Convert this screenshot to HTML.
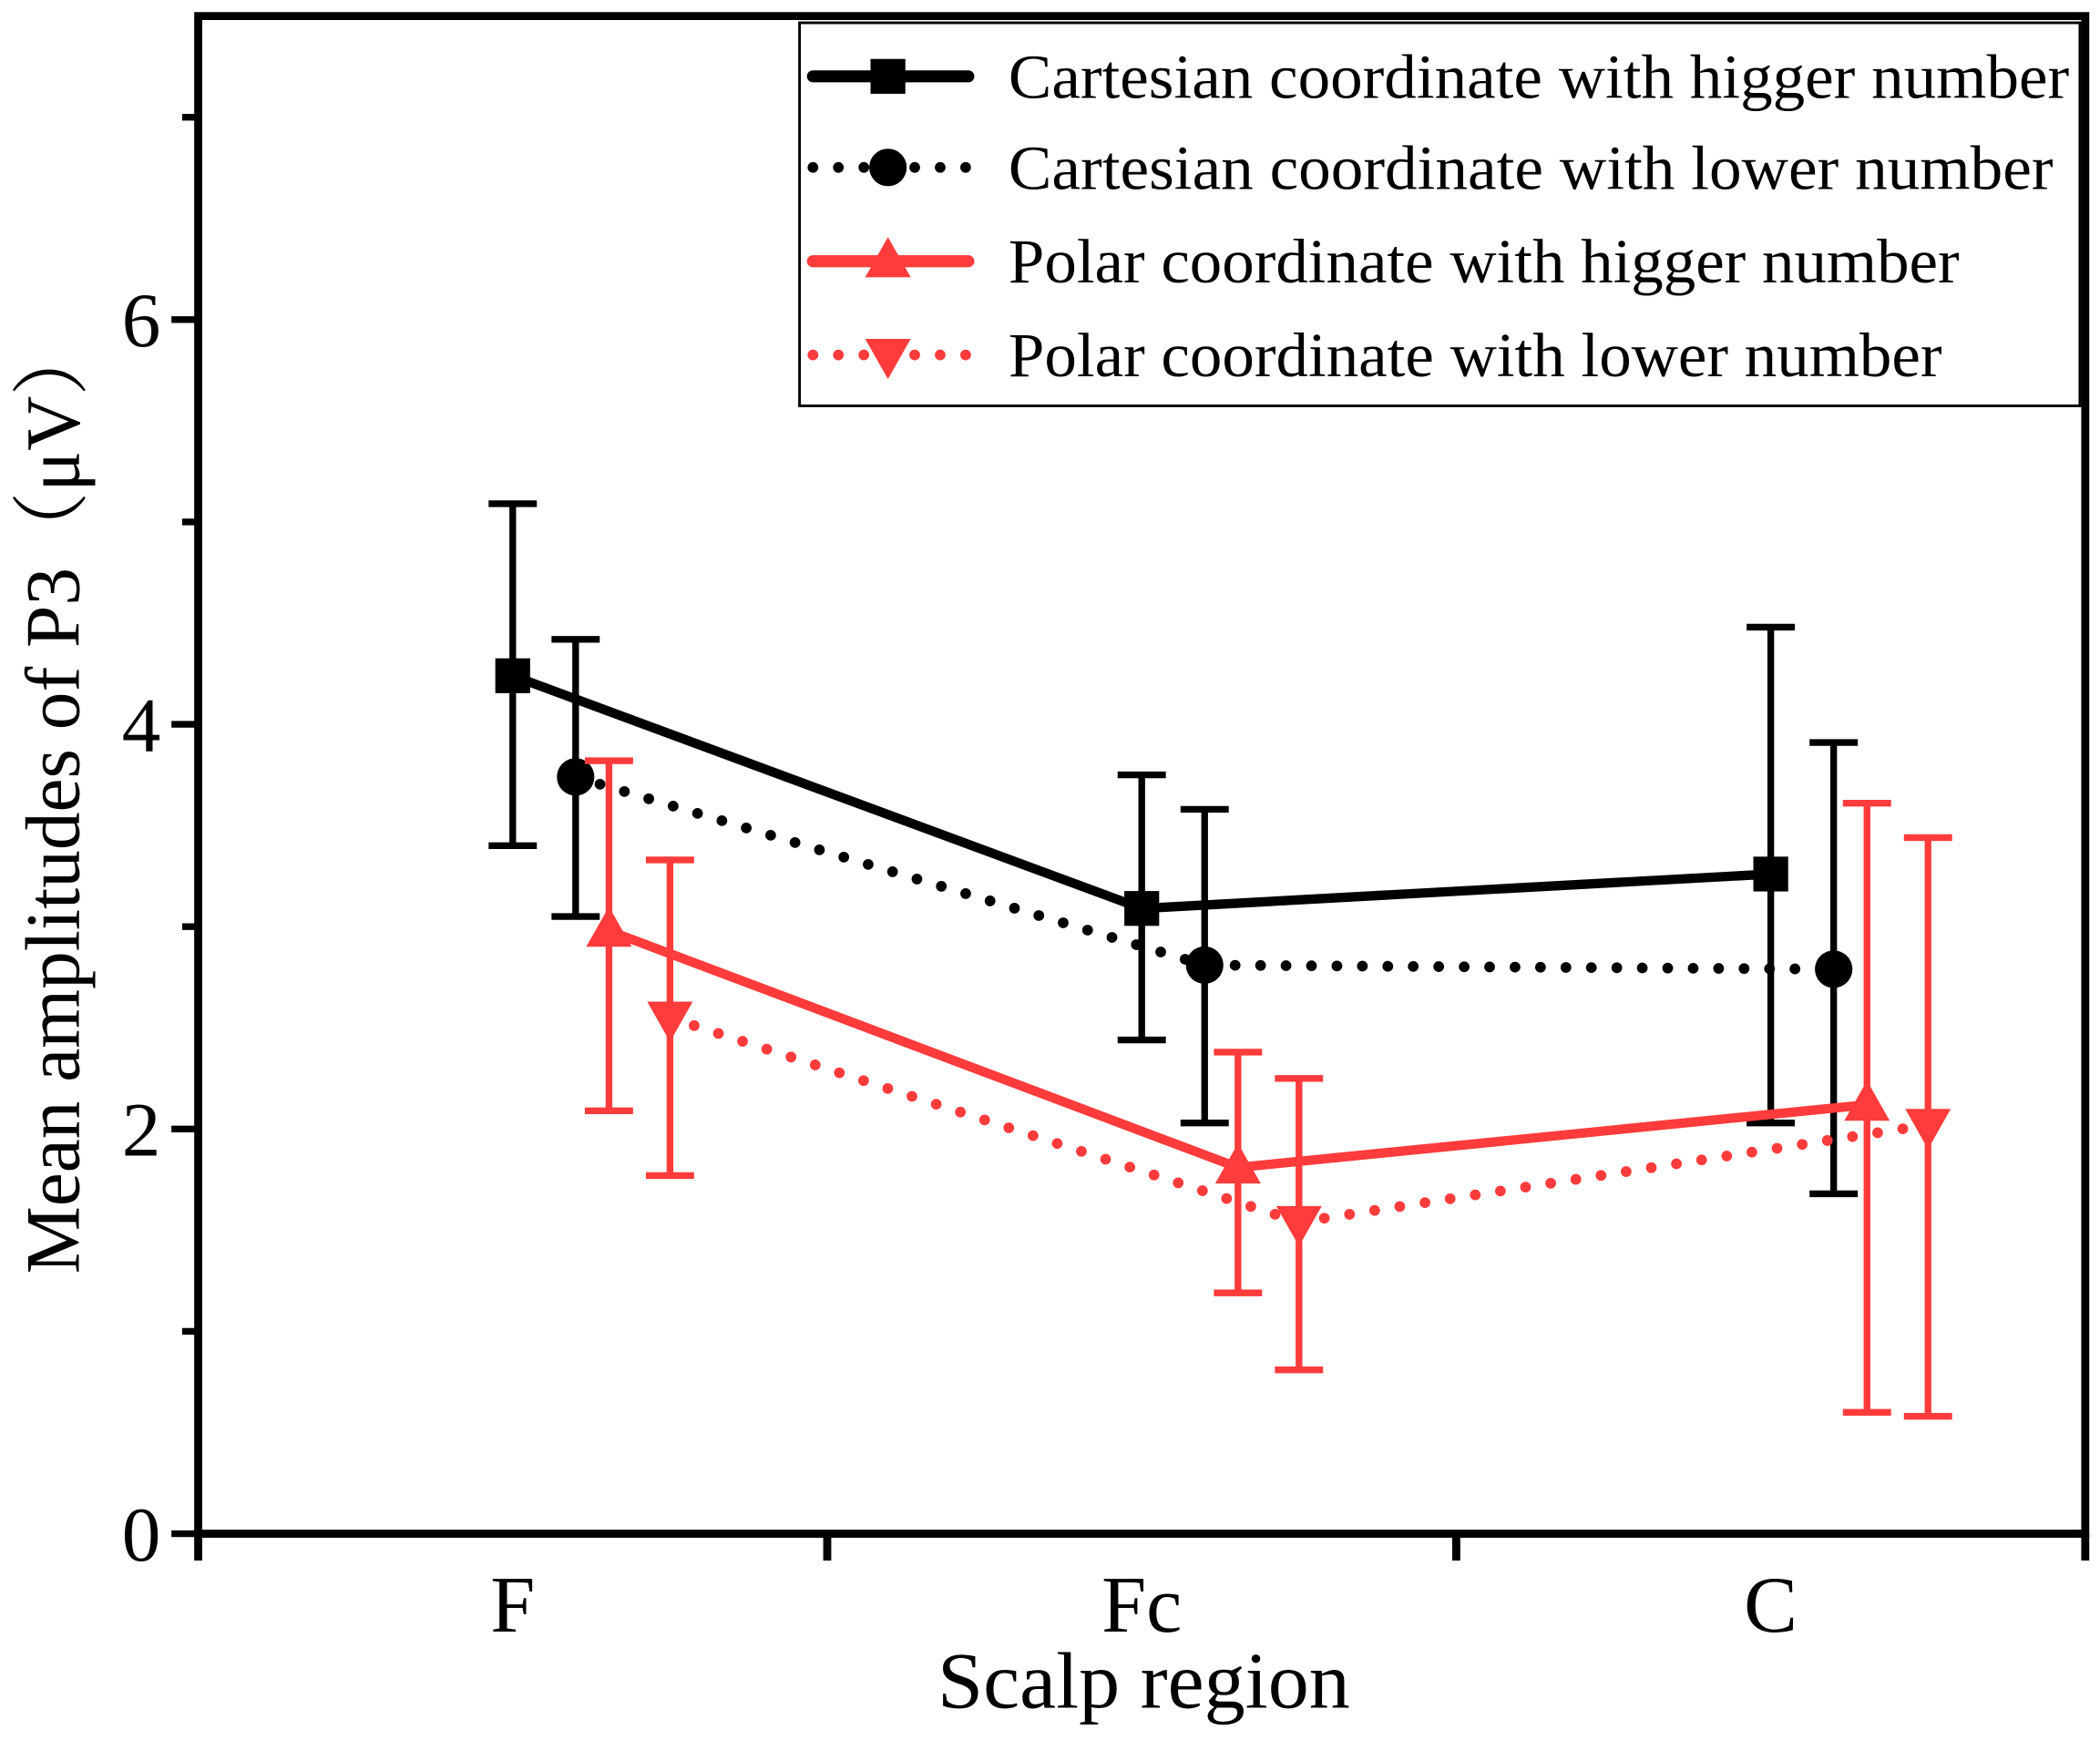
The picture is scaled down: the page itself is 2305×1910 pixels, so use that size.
<!DOCTYPE html>
<html><head><meta charset="utf-8"><style>html,body{margin:0;padding:0;background:#fff}svg{display:block}</style></head>
<body>
<svg id="chart" width="2305" height="1910" viewBox="0 0 1568 1299" preserveAspectRatio="none" xmlns="http://www.w3.org/2000/svg" font-family="Liberation Serif, serif">
</svg>
<script>
const categories = ["F", "Fc", "C"];
const yTicks = [0, 2, 4, 6];
const yMinor = [1, 3, 5, 7];
const seriesNames = ["Cartesian coordinate with higger number","Cartesian coordinate with lower number","Polar coordinate with higger number","Polar coordinate with lower number"];
const cartHighMean = [4.24, 3.09, 3.26];
const cartHighUpper = [5.09, 3.75, 4.48];
const cartHighLower = [3.40, 2.44, 2.03];
const cartLowMean = [3.74, 2.81, 2.79];
const cartLowUpper = [4.42, 3.58, 3.91];
const cartLowLower = [3.05, 2.03, 1.68];
const polarHighMean = [2.98, 1.81, 2.12];
const polarHighUpper = [3.82, 2.38, 3.61];
const polarHighLower = [2.09, 1.19, 0.60];
const polarLowMean = [2.55, 1.54, 2.02];
const polarLowUpper = [3.33, 2.25, 3.44];
const polarLowLower = [1.77, 0.81, 0.58];

const NS = "http://www.w3.org/2000/svg";
const svg = document.getElementById('chart');
const L = 148, R = 1557, T = 12, B = 1145;
const yMax = 7.5;
const y = v => B - v / yMax * (B - T);
const catW = (R - L) / 3;
const x = (i, off) => L + (i + 0.5 + off) * catW;
const RED = "#ff3b3b";
function mk(tag, attrs, parent) {
  const e = document.createElementNS(NS, tag);
  for (const k in attrs) e.setAttribute(k, attrs[k]);
  (parent || svg).appendChild(e);
  return e;
}
function marker(type, cx, cy, color, g) {
  let e;
  if (type === 'sq') e = mk('rect', {x: cx - 13, y: cy - 13, width: 26, height: 26, fill: color}, g);
  else if (type === 'ci') e = mk('circle', {cx: cx, cy: cy, r: 14, fill: color}, g);
  else if (type === 'up') e = mk('polygon', {points: `${cx},${cy-18} ${cx-17},${cy+12} ${cx+17},${cy+12}`, fill: color}, g);
  else e = mk('polygon', {points: `${cx},${cy+18} ${cx-17},${cy-12} ${cx+17},${cy-12}`, fill: color}, g);
  return e;
}
const series = [
  {mean: cartHighMean, up: cartHighUpper, lo: cartHighLower, off: 0, color: "#000", dotted: false, m: 'sq'},
  {mean: cartLowMean, up: cartLowUpper, lo: cartLowLower, off: 0.1, color: "#000", dotted: true, m: 'ci'},
  {mean: polarHighMean, up: polarHighUpper, lo: polarHighLower, off: 0.153, color: RED, dotted: false, m: 'up'},
  {mean: polarLowMean, up: polarLowUpper, lo: polarLowLower, off: 0.25, color: RED, dotted: true, m: 'dn'}
];
series.forEach((s, si) => {
  const g = mk('g', {});
  
  
  const pts = s.mean.map((v, i) => `${x(i, s.off)},${y(v)}`).join(' ');
  const line = mk('polyline', {points: pts, fill: 'none', stroke: s.color, 'stroke-width': s.dotted ? 8 : 7, 'stroke-linecap': 'round', 'stroke-linejoin': 'round'}, g);
  if (s.dotted) line.setAttribute('stroke-dasharray', '0 19');
  
  
  s.mean.forEach((v, i) => {
    const cx = x(i, s.off);
    const eb = mk('path', {d: `M${cx},${y(s.up[i])}V${y(s.lo[i])}M${cx-18},${y(s.up[i])}H${cx+18}M${cx-18},${y(s.lo[i])}H${cx+18}`, stroke: s.color, 'stroke-width': 5, fill: 'none'}, g);
    
    
    const mm = marker(s.m, cx, y(v), s.color, g);
    
    
  });
});
// axes
const ax = mk('path', {d: `M${L},${T}V${B}H${R}V${T}Z`, fill: 'none', stroke: '#000', 'stroke-width': 6});


yTicks.forEach(t => {
  mk('line', {x1: L - 20, x2: L, y1: y(t), y2: y(t), stroke: '#000', 'stroke-width': 5});
  const tx = mk('text', {x: L - 28, y: y(t) + 20, 'text-anchor': 'end', 'font-size': 58});
  tx.textContent = t;
  
  
});
yMinor.forEach(t => mk('line', {x1: L - 12, x2: L, y1: y(t), y2: y(t), stroke: '#000', 'stroke-width': 5}));
for (let i = 0; i <= 3; i++) mk('line', {x1: L + i * catW, x2: L + i * catW, y1: B, y2: B + 20, stroke: '#000', 'stroke-width': 6});
categories.forEach((c, i) => {
  const tx = mk('text', {x: x(i, 0), y: B + 73, 'text-anchor': 'middle', 'font-size': 60});
  tx.textContent = c;
  
  
});
const xt = mk('text', {x: 854, y: 1275, 'text-anchor': 'middle', 'font-size': 60, textLength: 308, lengthAdjust: 'spacingAndGlyphs'});
xt.textContent = 'Scalp  region';


xt.setAttribute('xml:space', 'preserve');
const yt = mk('text', {x: 0, y: 0, 'text-anchor': 'middle', 'font-size': 58, textLength: 712, lengthAdjust: 'spacingAndGlyphs', transform: 'translate(59,595) rotate(-90)'});
yt.setAttribute('font-family', 'Liberation Serif, Noto Serif CJK SC, serif');
yt.textContent = 'Mean amplitudes of P3（μV）';


// legend
const lg = mk('g', {});


mk('rect', {x: 597, y: 17, width: 956, height: 286, fill: '#fff', stroke: '#000', 'stroke-width': 2}, lg);
const legY = [57, 125, 195, 265];
const legLen = [792, 780, 710, 697];
series.forEach((s, i) => {
  const ln = mk('line', {x1: 607, x2: 723, y1: legY[i], y2: legY[i], stroke: s.color, 'stroke-width': s.dotted ? 8 : 9, 'stroke-linecap': 'round'}, lg);
  if (s.dotted) ln.setAttribute('stroke-dasharray', '0 19');
  marker(s.m, 663, legY[i], s.color, lg);
  const tx = mk('text', {x: 753, y: legY[i] + 16, 'font-size': 47, textLength: legLen[i], lengthAdjust: 'spacingAndGlyphs'}, lg);
  tx.textContent = seriesNames[i];
  
  
});
</script>
</body></html>
